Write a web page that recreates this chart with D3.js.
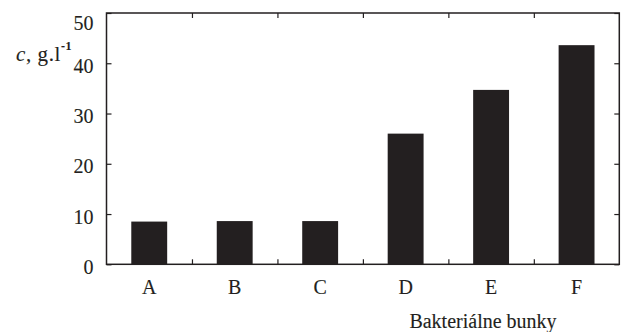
<!DOCTYPE html>
<html><head><meta charset="utf-8">
<script src="https://cdn.jsdelivr.net/npm/d3@7"></script>
<style>
html,body{margin:0;padding:0;background:#fff;}
svg{display:block;}
text{font-family:"Liberation Serif","Times New Roman",serif;fill:#231f20;stroke:#231f20;stroke-width:0.12px;}
</style></head>
<body><svg id="c" width="621" height="332"></svg>
<script>
const categories = ["A","B","C","D","E","F"];
const values = [8.5, 8.6, 8.6, 26, 34.7, 43.6];
const yTicks = [0,10,20,30,40,50];
const xTitle = "Bakteriálne bunky";

const svg = d3.select("#c");
const L = 106.5, R = 619.3, T = 13, B = 264.3;
const ink = "#231f20";

const x = d3.scaleBand().domain(categories).range([L, R]).paddingInner(0.58).paddingOuter(0.29);
const y = d3.scaleLinear().domain([0, 50]).range([B, T]);
const step = x.step();
const bounds = d3.range(1, categories.length).map(i => L + i * step);
const xb = d3.scaleLinear().domain([L, R]).range([L, R]);

// bars
svg.append("g").selectAll("rect").data(values).join("rect")
  .attr("x", (d,i) => x(categories[i]))
  .attr("width", x.bandwidth())
  .attr("y", d => y(d))
  .attr("height", d => y(0) - y(d))
  .attr("fill", ink);

// frame
svg.append("rect").attr("x", L).attr("y", T).attr("width", R - L).attr("height", B - T)
  .attr("fill", "none").attr("stroke", ink).attr("stroke-width", 1.5);

function styleAxis(g){ g.select(".domain").remove(); g.selectAll("line").attr("stroke", ink).attr("stroke-width", 1.2); }

// left axis (inward ticks)
const gl = svg.append("g").attr("transform", `translate(${L},0)`)
  .call(d3.axisLeft(y).tickValues(yTicks).tickSizeInner(-5).tickSizeOuter(0).tickPadding(13).tickFormat(d3.format("d")));
styleAxis(gl);
gl.selectAll("text").attr("font-size", 20).attr("font-family", "Liberation Serif").attr("fill", ink)
  .attr("dy", d => d === 50 ? "0.8em" : "0.45em");

// right axis (inward ticks)
const gr = svg.append("g").attr("transform", `translate(${R},0)`)
  .call(d3.axisRight(y).tickValues(yTicks).tickSizeInner(-5).tickSizeOuter(0).tickFormat(""));
styleAxis(gr);

// bottom / top ticks at band boundaries
const gb = svg.append("g").attr("transform", `translate(0,${B})`)
  .call(d3.axisBottom(xb).tickValues(bounds).tickSizeInner(-5).tickSizeOuter(0).tickFormat(""));
styleAxis(gb);
const gt = svg.append("g").attr("transform", `translate(0,${T})`)
  .call(d3.axisTop(xb).tickValues(bounds).tickSizeInner(-5).tickSizeOuter(0).tickFormat(""));
styleAxis(gt);

// category labels
const gx = svg.append("g").attr("transform", `translate(0,${B})`)
  .call(d3.axisBottom(x).tickSize(0).tickPadding(16));
gx.select(".domain").remove();
gx.selectAll("text").attr("font-size", 20).attr("font-family", "Liberation Serif").attr("fill", ink);

// x title
svg.append("text").attr("x", 483).attr("y", 328).attr("text-anchor", "middle")
  .attr("font-size", 20).text(xTitle);

// y title
const yt = svg.append("text").attr("x", 16).attr("y", 61).attr("font-size", 21).attr("letter-spacing", 0.6);
yt.append("tspan").attr("font-style", "italic").text("c");
yt.append("tspan").text(", g.l");
yt.append("tspan").attr("font-size", 12).attr("dy", -11).attr("font-weight", "bold").text("-1");
</script></body></html>
